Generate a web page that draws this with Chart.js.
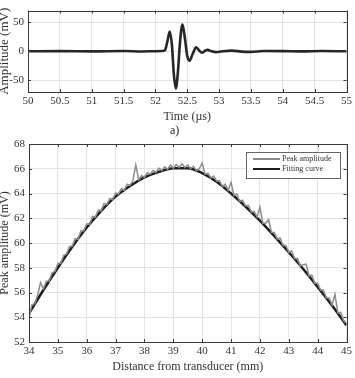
<!DOCTYPE html>
<html><head><meta charset="utf-8">
<script src="https://cdn.jsdelivr.net/npm/chart.js@4.4.0/dist/chart.umd.min.js"></script>
<style>
html,body{margin:0;padding:0;background:#fff;width:355px;height:378px;overflow:hidden;position:relative;font-family:"Liberation Serif",serif;}
canvas{position:absolute;left:0;}
#c1{top:0}
#c2{top:125px}
.lab{position:absolute;color:#222;font-size:12px;line-height:12px;}
#legend{position:absolute;left:246px;top:152px;width:93px;height:25px;border:1px solid #666;background:#fff;font-size:8px;color:#333;}
#legend .row{position:absolute;left:0;height:10px;width:93px;}
#legend .ln{position:absolute;left:6px;width:27px;}
#legend .tx{position:absolute;left:35px;top:0;line-height:10px;white-space:nowrap;}
</style>
</head><body>
<canvas id="c1" width="355" height="125"></canvas>
<canvas id="c2" width="355" height="253"></canvas>
<div class="lab" style="left:170px;top:124px;">a)</div>
<div id="legend">
  <div class="row" style="top:1px;"><div class="ln" style="top:4px;height:2px;background:#8a8a8a;"></div><div class="tx">Peak amplitude</div></div>
  <div class="row" style="top:11px;"><div class="ln" style="top:4px;height:2px;background:#1c1c1c;"></div><div class="tx">Fitting curve</div></div>
</div>
<script>
// ---- Top chart (a): waveform ----
const timeUs = [50.0, 50.5, 51.0, 51.5, 51.8, 52.0, 52.1, 52.15, 52.19, 52.225, 52.26, 52.29, 52.32, 52.35, 52.39, 52.425, 52.46, 52.5, 52.535, 52.58, 52.64, 52.69, 52.73, 52.78, 52.82, 52.88, 52.95, 53.05, 53.2, 53.35, 53.5, 53.7, 54.0, 54.3, 54.6, 55.0];
const amplitudeMv = [0, 0.3, -0.2, 0.4, -0.3, 0.2, 0.5, 2, 18, 34, 10, -40, -64, -40, 20, 46, 25, -8, -16, -6, 7, 1, -2.5, 1, 2.5, 0, -1.5, 0, 1.2, -0.5, -1, 0.5, 0.3, -0.2, 0.4, 0];
const timeTicks = [50, 50.5, 51, 51.5, 52, 52.5, 53, 53.5, 54, 54.5, 55];
const ampTicks = [-50, 0, 50];

// ---- Bottom chart (b): peak amplitude vs distance ----
const distanceMm = [34.0,34.1,34.2,34.3,34.4,34.5,34.6,34.7,34.8,34.9,
35.0,35.1,35.2,35.3,35.4,35.5,35.6,35.7,35.8,35.9,
36.0,36.1,36.2,36.3,36.4,36.5,36.6,36.7,36.8,36.9,
37.0,37.1,37.2,37.3,37.4,37.5,37.6,37.7,37.8,37.9,
38.0,38.1,38.2,38.3,38.4,38.5,38.6,38.7,38.8,38.9,
39.0,39.1,39.2,39.3,39.4,39.5,39.6,39.7,39.8,39.9,
40.0,40.1,40.2,40.3,40.4,40.5,40.6,40.7,40.8,40.9,
41.0,41.1,41.2,41.3,41.4,41.5,41.6,41.7,41.8,41.9,
42.0,42.1,42.2,42.3,42.4,42.5,42.6,42.7,42.8,42.9,
43.0,43.1,43.2,43.3,43.4,43.5,43.6,43.7,43.8,43.9,
44.0,44.1,44.2,44.3,44.4,44.5,44.6,44.7,44.8,44.9,45.0];
const peakAmplitude = [53.9,55.0,55.1,55.8,56.8,56.3,56.9,56.9,57.6,57.7,
58.35,58.35,59.0,59.1,59.7,59.75,60.35,60.3,61.0,61.0,
61.55,61.5,62.15,62.1,62.65,62.6,63.2,63.1,63.6,63.5,
64.05,63.95,64.4,64.25,64.75,64.65,65.05,66.3,65.1,65.45,
65.3,65.7,65.55,65.85,65.7,66.05,65.85,66.15,65.95,66.3,
66.05,66.35,66.1,66.4,66.1,66.3,66.0,66.2,65.85,66.0,
66.45,65.55,65.65,65.25,65.4,65.0,65.05,64.55,64.75,64.25,
64.9,63.85,63.95,63.35,63.45,63.0,63.05,62.5,62.55,62.1,
62.9,61.6,61.6,61.9,60.85,60.85,60.3,60.4,59.8,59.8,
59.25,59.35,58.75,58.75,58.15,58.25,58.3,57.35,57.4,56.75,
56.75,56.2,56.2,55.55,55.55,55.0,55.85,54.35,54.4,53.7,53.55];
const fitDistanceMm = [34.0,34.5,35.0,35.5,36.0,36.5,37.0,37.5,38.0,38.5,39.0,39.5,40.0,40.5,41.0,41.5,42.0,42.5,43.0,43.5,44.0,44.5,45.0];
const fittingCurve = [54.3,56.2,58.0,59.7,61.25,62.6,63.75,64.6,65.3,65.75,66.05,66.05,65.65,64.95,64.0,62.95,61.8,60.55,59.25,57.9,56.45,54.95,53.35];
const distTicks = [34,35,36,37,38,39,40,41,42,43,44,45];
const peakTicks = [52,54,56,58,60,62,64,66,68];

const FONT = "'Liberation Serif', serif";
const TXT = '#333';
const GRID = '#e4e4e4';

const boxPlugin = {
  id: 'box',
  afterDatasetsDraw(chart) {
    const {ctx, chartArea: a, scales} = chart;
    ctx.save();
    ctx.strokeStyle = '#3a3a3a';
    ctx.lineWidth = 1;
    ctx.beginPath();
    const L = 3;
    scales.x.ticks.forEach(t => {
      const px = Math.round(scales.x.getPixelForValue(t.value)) + 0.5;
      ctx.moveTo(px, a.top); ctx.lineTo(px, a.top + L);
      ctx.moveTo(px, a.bottom); ctx.lineTo(px, a.bottom - L);
    });
    scales.y.ticks.forEach(t => {
      const py = Math.round(scales.y.getPixelForValue(t.value)) + 0.5;
      ctx.moveTo(a.left, py); ctx.lineTo(a.left + L, py);
      ctx.moveTo(a.right, py); ctx.lineTo(a.right - L, py);
    });
    ctx.stroke();
    ctx.strokeRect(Math.round(a.left) + 0.5, Math.round(a.top) + 0.5, Math.round(a.right - a.left), Math.round(a.bottom - a.top));
    ctx.restore();
  }
};

function axisX(min, max, ticks, title, xH, titlePadB) {
  return {
    type: 'linear', min, max,
    afterBuildTicks: s => { s.ticks = ticks.map(v => ({value: v})); },
    afterFit: s => { s.height = xH; },
    grid: {color: GRID, lineWidth: 1, drawTicks: false},
    border: {display: false},
    ticks: {color: TXT, font: {family: FONT, size: 11}, padding: 3, maxRotation: 0, autoSkip: false, callback: v => String(v)},
    title: {display: true, text: title, color: TXT, font: {family: FONT, size: 12, lineHeight: 1.2}, padding: {top: 0, bottom: titlePadB}}
  };
}
function axisY(min, max, ticks, title, yW, size, padTop) {
  return {
    type: 'linear', min, max,
    afterBuildTicks: s => { s.ticks = ticks.map(v => ({value: v})); },
    afterFit: s => { s.width = yW; },
    grid: {color: GRID, lineWidth: 1, drawTicks: false},
    border: {display: false},
    ticks: {color: TXT, font: {family: FONT, size: 11}, padding: 4, autoSkip: false, callback: v => String(v)},
    title: {display: true, text: title, color: TXT, font: {family: FONT, size: size, lineHeight: 1}, padding: {top: padTop, bottom: 0}}
  };
}

new Chart(document.getElementById('c1'), {
  type: 'line',
  data: {datasets: [{
    data: timeUs.map((t, i) => ({x: t, y: amplitudeMv[i]})),
    borderColor: '#262626', borderWidth: 2.6, pointRadius: 0, cubicInterpolationMode: 'monotone', fill: false
  }]},
  options: {
    responsive: false, animation: false, devicePixelRatio: 1,
    layout: {padding: {left: 0, right: 7, top: 8, bottom: 0}},
    plugins: {legend: {display: false}, tooltip: {enabled: false}},
    scales: {
      x: axisX(50, 55, timeTicks, 'Time (\u00b5s)', 33, 1),
      y: axisY(-70, 70, ampTicks, 'Amplitude (mV)', 28, 13, -2)
    }
  },
  plugins: [boxPlugin]
});

new Chart(document.getElementById('c2'), {
  type: 'line',
  data: {datasets: [
    {label: 'Peak amplitude', data: distanceMm.map((d, i) => ({x: d, y: peakAmplitude[i]})),
     borderColor: '#8c8c8c', borderWidth: 1.5, pointRadius: 0, tension: 0, fill: false},
    {label: 'Fitting curve', data: fitDistanceMm.map((d, i) => ({x: d, y: fittingCurve[i]})),
     borderColor: '#1c1c1c', borderWidth: 2.5, pointRadius: 0, cubicInterpolationMode: 'monotone', fill: false}
  ]},
  options: {
    responsive: false, animation: false, devicePixelRatio: 1,
    layout: {padding: {left: 0, right: 7, top: 19, bottom: 0}},
    plugins: {legend: {display: false}, tooltip: {enabled: false}},
    scales: {
      x: axisX(34, 45, distTicks, 'Distance from transducer (mm)', 36, 4),
      y: axisY(52, 68, peakTicks, 'Peak amplitude (mV)', 29, 12, -1)
    }
  },
  plugins: [boxPlugin]
});
</script>
</body></html>
